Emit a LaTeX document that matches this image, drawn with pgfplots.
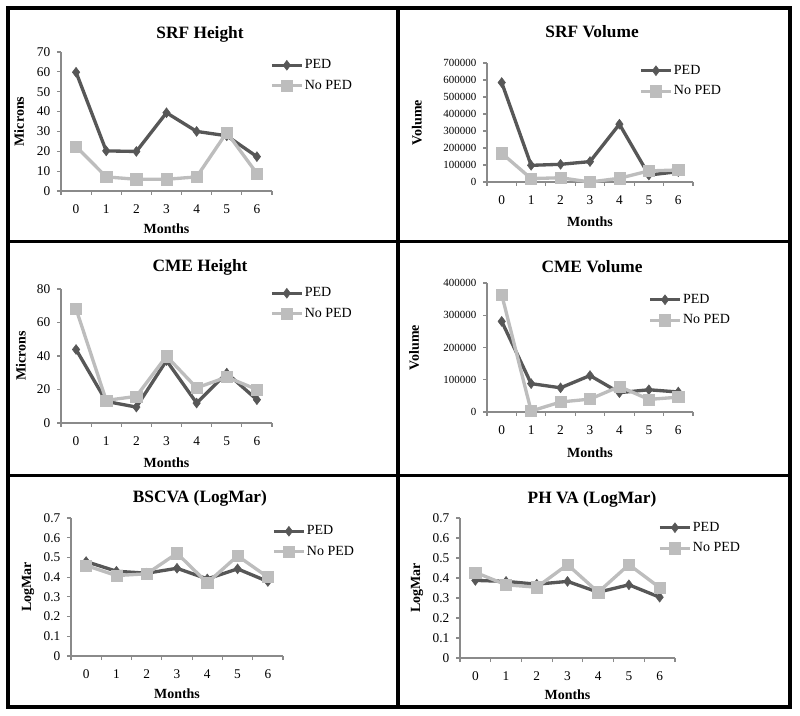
\documentclass[border=0pt]{standalone}
\usepackage{pgfplots}
\pgfplotsset{compat=1.18}
\usepackage{fontspec}
\setmainfont{Liberation Serif}
\definecolor{pedc}{HTML}{575757}
\definecolor{nopedc}{HTML}{BDBDBD}
\definecolor{axisg}{HTML}{8A8A8A}
\pgfplotsset{
  panel/.style={
    scale only axis,
    clip=false,
    axis x line=bottom, axis y line=left,
    axis line style={-, draw=axisg, line width=0.8pt},
    tick align=outside,
    tick style={draw=axisg, line width=0.8pt},
    major tick length=3pt, minor tick length=3pt,
    xmin=-0.5, xmax=6.5,
    xtick={0,...,6},
    minor xtick={-0.5,0.5,...,6.5},
    major x tick style=transparent,
    ymin=0,
    scaled y ticks=false,
    /pgf/number format/assume math mode=true,
    /pgf/number format/set thousands separator={},
    /pgf/number format/fixed,
    tick label style={font=\fontsize{10}{12}\selectfont, text=black},
    xticklabel shift=4pt,
    yticklabel shift=1.5pt,
    label style={font=\bfseries\fontsize{10.5}{12}\selectfont},
    title style={font=\bfseries\fontsize{13}{15}\selectfont, anchor=center, yshift=-7.5pt},
    xlabel={Months},
    legend style={draw=none, fill=none, anchor=north west, inner sep=0pt,
      font=\fontsize{10.5}{12}\selectfont, cells={anchor=west},
      nodes={inner sep=1pt, text height=7.2pt, text depth=2pt},
      row sep=4.2pt,
      /tikz/every even column/.append style={column sep=1pt}},
    legend image code/.code={%
      \draw[mark repeat=2, mark phase=2, #1] plot coordinates {(0pt,0pt) (11.25pt,0pt) (22.5pt,0pt)};},
  },
  ped/.style={color=pedc, line width=2.5pt, mark=diamond*, mark size=3.7pt, mark options={solid, line width=0.4pt, fill=pedc}},
  noped/.style={color=nopedc, line width=2.5pt, mark=square*, mark size=4.2pt, mark options={solid, line width=0.4pt, fill=nopedc}},
}
\begin{document}
\begin{tikzpicture}[x=0.75pt, y=0.75pt]
\path[use as bounding box] (0,0) rectangle (800,-716);
\draw[line width=3pt, black] (7.5,-8) rectangle (790,-707);
\draw[line width=3.5pt, black] (398,-8) -- (398,-707);
\draw[line width=2.4pt, black] (7.5,-241.5) -- (790,-241.5);
\draw[line width=2.8pt, black] (7.5,-475.5) -- (790,-475.5);

% Panel 1: SRF Height
\begin{axis}[panel, at={(45.75pt,-143.25pt)}, anchor=south west,
  width=158.25pt, height=104.25pt,
  ymax=70, ytick={0,10,...,70},
  title={SRF Height}, title style={at={(0.659,1.144)}},
  xlabel style={at={(0.5,-0.273)}, anchor=center},
  ylabel={Microns}, ylabel style={at={(-0.199,0.5)}, anchor=center},
  legend style={at={(0.99,0.96)}}]
\addplot[ped] coordinates {(0,59.8) (1,20.2) (2,19.9) (3,39.4) (4,30) (5,27.8) (6,17.3)};
\addplot[noped] coordinates {(0,22.4) (1,7.1) (2,5.9) (3,5.9) (4,7.1) (5,29.5) (6,8.8)};
\legend{PED, No PED}
\end{axis}

% Panel 2: SRF Volume
\begin{axis}[panel, at={(365.25pt,-136.5pt)}, anchor=south west,
  width=154.5pt, height=89.25pt,
  ymax=700000, ytick={0,100000,...,700000},
  yticklabel style={font=\fontsize{8.2}{10}\selectfont},
  title={SRF Volume}, title style={at={(0.51,1.277)}},
  xlabel style={at={(0.5,-0.336)}, anchor=center},
  ylabel={Volume}, ylabel style={at={(-0.34,0.5)}, anchor=center},
  legend style={at={(0.738,1.0)}}]
\addplot[ped] coordinates {(0,585000) (1,98000) (2,104000) (3,120000) (4,340000) (5,41000) (6,61000)};
\addplot[noped] coordinates {(0,169000) (1,20000) (2,25000) (3,0) (4,22000) (5,65000) (6,71000)};
\legend{PED, No PED}
\end{axis}

% Panel 3: CME Height
\begin{axis}[panel, at={(45.75pt,-317.25pt)}, anchor=south west,
  width=158.25pt, height=100.5pt,
  ymax=80, ytick={0,20,...,80},
  title={CME Height}, title style={at={(0.659,1.179)}},
  xlabel style={at={(0.5,-0.299)}, anchor=center},
  ylabel={Microns}, ylabel style={at={(-0.19,0.5)}, anchor=center},
  legend style={at={(0.99,1.026)}}]
\addplot[ped] coordinates {(0,43.9) (1,12.9) (2,9.5) (3,37.3) (4,11.9) (5,29.8) (6,13.9)};
\addplot[noped] coordinates {(0,68.1) (1,13.5) (2,15.9) (3,39.9) (4,21.0) (5,27.4) (6,20.0)};
\legend{PED, No PED}
\end{axis}

% Panel 4: CME Volume
\begin{axis}[panel, at={(365.25pt,-309pt)}, anchor=south west,
  width=154.5pt, height=96.75pt,
  ymax=400000, ytick={0,100000,...,400000},
  yticklabel style={font=\fontsize{8.2}{10}\selectfont},
  title={CME Volume}, title style={at={(0.51,1.14)}},
  xlabel style={at={(0.5,-0.318)}, anchor=center},
  ylabel={Volume}, ylabel style={at={(-0.354,0.5)}, anchor=center},
  legend style={at={(0.782,0.93)}}]
\addplot[ped] coordinates {(0,281000) (1,88000) (2,75000) (3,113000) (4,60000) (5,69000) (6,62000)};
\addplot[noped] coordinates {(0,364000) (1,3000) (2,31000) (3,40000) (4,79000) (5,39000) (6,46000)};
\legend{PED, No PED}
\end{axis}

% Panel 5: BSCVA
\begin{axis}[panel, at={(53.25pt,-492pt)}, anchor=south west,
  width=159pt, height=103.5pt,
  ymax=0.7, ytick={0,0.1,...,0.71},
  yticklabel style={/pgf/number format/precision=1},
  title={BSCVA (LogMar)}, title style={at={(0.608,1.159)}},
  xlabel style={at={(0.5,-0.275)}, anchor=center},
  ylabel={LogMar}, ylabel style={at={(-0.203,0.5)}, anchor=center},
  legend style={at={(0.948,0.96)}}]
\addplot[ped] coordinates {(0,0.479) (1,0.430) (2,0.420) (3,0.445) (4,0.391) (5,0.442) (6,0.378)};
\addplot[noped] coordinates {(0,0.459) (1,0.408) (2,0.417) (3,0.521) (4,0.371) (5,0.508) (6,0.400)};
\legend{PED, No PED}
\end{axis}

% Panel 6: PH VA
\begin{axis}[panel, at={(345pt,-493.5pt)}, anchor=south west,
  width=161.25pt, height=105pt,
  ymax=0.7, ytick={0,0.1,...,0.71},
  yticklabel style={/pgf/number format/precision=1},
  title={PH VA (LogMar)}, title style={at={(0.614,1.15)}},
  xlabel style={at={(0.5,-0.264)}, anchor=center},
  ylabel={LogMar}, ylabel style={at={(-0.2,0.5)}, anchor=center},
  legend style={at={(0.921,0.986)}}]
\addplot[ped] coordinates {(0,0.388) (1,0.383) (2,0.369) (3,0.383) (4,0.329) (5,0.366) (6,0.304)};
\addplot[noped] coordinates {(0,0.428) (1,0.366) (2,0.354) (3,0.467) (4,0.329) (5,0.467) (6,0.352)};
\legend{PED, No PED}
\end{axis}
\end{tikzpicture}
\end{document}
